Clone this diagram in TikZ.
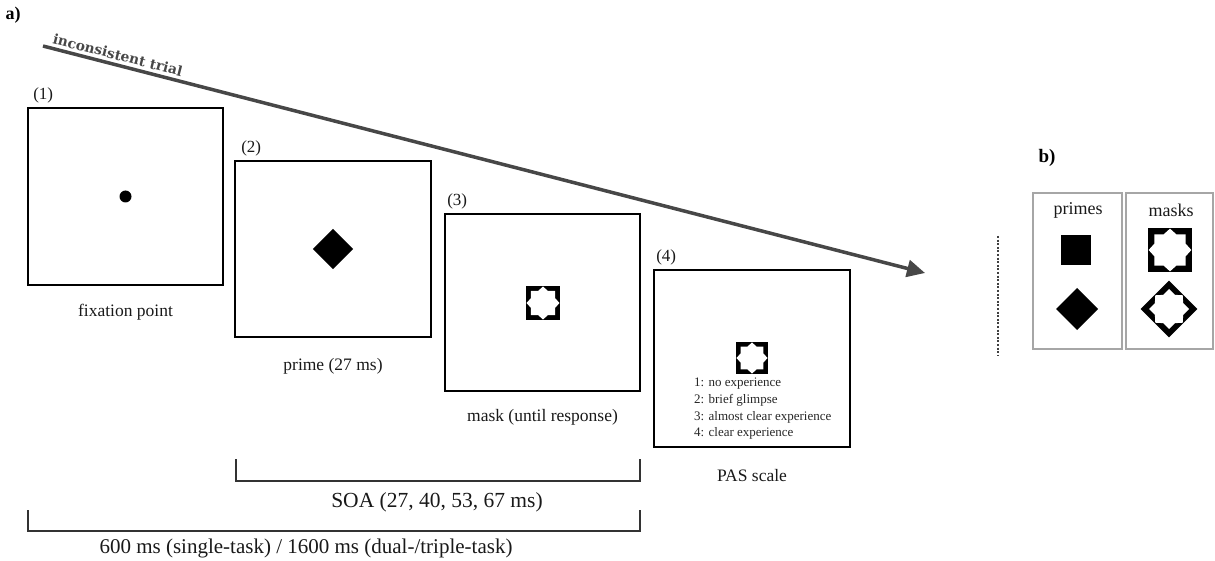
\documentclass[tikz,border=0pt]{standalone}
\usepackage{fontspec}
\setmainfont{Liberation Serif}
\newfontfamily\trialfont{DejaVu Serif Bold}
\usetikzlibrary{arrows.meta,calc}
\definecolor{arrowgray}{HTML}{474747}
\tikzset{
  screenbox/.style={draw=black, line width=1.8pt, minimum width=195pt, minimum height=177pt, inner sep=0pt},
  captxt/.style={font=\fontsize{17.5}{20}\selectfont, inner sep=0pt, text=black!90},
  numtxt/.style={font=\fontsize{17}{20}\selectfont, inner sep=0pt, anchor=base west, text=black!90},
  bottxt/.style={font=\fontsize{21.5}{24}\selectfont, inner sep=0pt, text=black!90},
  bracketline/.style={draw=black!80, line width=1.2pt},
  panelbox/.style={draw=black!35, line width=1.2pt, minimum height=156pt, inner sep=0pt},
  primesq/.style={fill=black, minimum size=30pt, inner sep=0pt},
  maskpic/.pic={
    \fill[black] (-1,-1) rectangle (1,1);
    \fill[white] (0.97,0) -- (0.7071,0.2929) -- (0.7071,0.7071) -- (0.2929,0.7071) -- (0,0.97)
      -- (-0.2929,0.7071) -- (-0.7071,0.7071) -- (-0.7071,0.2929) -- (-0.97,0)
      -- (-0.7071,-0.2929) -- (-0.7071,-0.7071) -- (-0.2929,-0.7071) -- (0,-0.97)
      -- (0.2929,-0.7071) -- (0.7071,-0.7071) -- (0.7071,-0.2929) -- cycle;
  }
}
\begin{document}
\begin{tikzpicture}[x=1pt,y=-1pt]
\useasboundingbox (0,0) rectangle (1215,561);

% panel labels
\node[font=\fontsize{18}{20}\selectfont\bfseries, inner sep=0pt] (la) at (13,15) {a)};
\node[font=\fontsize{19}{22}\selectfont\bfseries, inner sep=0pt] (lb) at (1047,158) {b)};

% screens
\node[screenbox] (s1) at (125.5,196.5) {};
\node[screenbox, minimum width=196pt, minimum height=176pt] (s2) at (333,249) {};
\node[screenbox] (s3) at (542.5,302.5) {};
\node[screenbox, minimum width=196pt] (s4) at (752,358.5) {};

% numbers
\node[numtxt] (n1) at ($(s1.north west)+(6,-8)$) {(1)};
\node[numtxt] (n2) at ($(s2.north west)+(7,-8)$) {(2)};
\node[numtxt] (n3) at ($(s3.north west)+(3,-8)$) {(3)};
\node[numtxt] (n4) at ($(s4.north west)+(3,-8)$) {(4)};

% captions
\node[captxt] (c1) at ($(s1.south)+(0,26)$) {fixation point};
\node[captxt] (c2) at ($(s2.south)+(0,28)$) {prime (27 ms)};
\node[captxt] (c3) at ($(s3.south)+(0,25)$) {mask (until response)};
\node[captxt] (c4) at ($(s4.south)+(0,28)$) {PAS scale};

% stimuli in screens
\node[circle, fill=black, minimum size=12pt, inner sep=0pt] (dot) at (s1.center) {};
\node[primesq, minimum size=28.5pt, rotate=45] (pd) at (s2.center) {};
\pic[scale=17] at (543,303) {maskpic};
\pic[scale=16] at (752,358) {maskpic};
\node[anchor=west, align=left, inner sep=0pt, font=\fontsize{13}{16.7}\selectfont, text=black!85] (pas) at (694,409)
  {1: no experience\\2: brief glimpse\\3: almost clear experience\\4: clear experience};

% arrow
\coordinate (arrS) at (43,46);
\coordinate (arrE) at (925,273);
\draw[draw=arrowgray, line width=3.5pt, -{Triangle[length=18pt,width=17pt]}] (arrS) -- (arrE);
\path (arrS) -- (arrE) coordinate[pos=0.082] (tlab);
\node[rotate=-14.43, anchor=south, inner sep=4.5pt, text=arrowgray,
  font=\fontsize{13.8}{16}\selectfont\trialfont] (trial) at (tlab) {inconsistent trial};

% brackets
\coordinate (soaL) at (236,459);
\coordinate (soaR) at (640,459);
\draw[bracketline] (soaL) -- ++(0,22) -| (soaR);
\node[bottxt] (soa) at (437,502) {SOA (27, 40, 53, 67 ms)};
\coordinate (totL) at (28,510);
\coordinate (totR) at (640,510);
\draw[bracketline] (totL) -- ++(0,21) -| (totR);
\node[bottxt, font=\fontsize{21}{24}\selectfont] (tot) at (306,548) {600 ms (single-task) / 1600 ms (dual-/triple-task)};

% dotted divider
\coordinate (dvT) at (998,236);
\coordinate (dvB) at (998,356);
\draw[draw=black!75, line width=2.5pt, dash pattern=on 2pt off 1.6pt] (dvT) -- (dvB);

% panel b
\node[panelbox, minimum width=89pt] (bp) at (1077.5,271) {};
\node[panelbox, minimum width=87pt] (bm) at (1169.5,271) {};
\node[captxt, font=\fontsize{18}{20}\selectfont] (tp) at (1078,210) {primes};
\node[captxt, font=\fontsize{18}{20}\selectfont] (tm) at (1171,210) {masks};
\node[primesq] (psq) at (1076,250) {};
\node[primesq, minimum size=29.7pt, rotate=45] (pdi) at (1077,309) {};
\pic[scale=22] at (1170,250) {maskpic};
\pic[scale=20, rotate=45] at (1169,309) {maskpic};
\end{tikzpicture}
\end{document}
